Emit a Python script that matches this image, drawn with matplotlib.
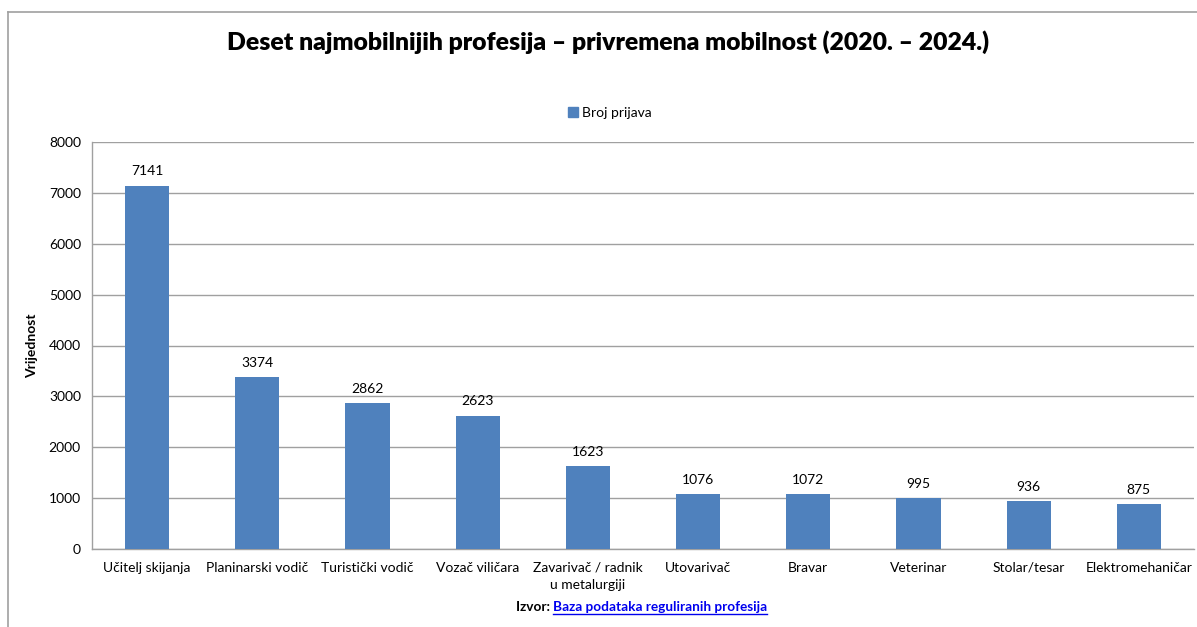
import matplotlib
matplotlib.use("Agg")
import matplotlib.pyplot as plt
from matplotlib.lines import Line2D
from matplotlib.patches import Patch

plt.rcParams['font.family'] = ['Lato', 'DejaVu Sans']

categories = ["Učitelj skijanja", "Planinarski vodič", "Turistički vodič", "Vozač viličara",
              "Zavarivač / radnik\nu metalurgiji", "Utovarivač", "Bravar", "Veterinar",
              "Stolar/tesar", "Elektromehaničar"]
values = [7141, 3374, 2862, 2623, 1623, 1076, 1072, 995, 936, 875]
series_name = "Broj prijava"
yticks = [0, 1000, 2000, 3000, 4000, 5000, 6000, 7000, 8000]

W, H = 1197, 627
fig = plt.figure(figsize=(W / 100, H / 100), dpi=100)
ax = fig.add_axes([92 / W, 1 - 549 / H, (1194 - 92) / W, (549 - 142) / H])

bar_color = "#4F81BD"
x = range(len(categories))
bars = ax.bar(x, values, width=0.4, color=bar_color, label=series_name, zorder=3)
ax.set_xlim(-0.5, len(categories) - 0.5)
ax.set_ylim(0, 8000)
ax.set_yticks(yticks)
ax.set_yticklabels([str(v) for v in yticks], fontsize=10)
ax.set_xticks(list(x))
ax.set_xticklabels(categories, fontsize=10, linespacing=1.55)
ax.tick_params(axis='both', length=0, pad=8)
ax.tick_params(axis='x', pad=9)
ax.grid(axis='y', color="#A0A0A0", linewidth=1, zorder=0)
for s in ['top', 'right']:
    ax.spines[s].set_visible(False)
for s in ['left', 'bottom']:
    ax.spines[s].set_color("#A0A0A0")
    ax.spines[s].set_linewidth(1)

for i, v in enumerate(values):
    ax.annotate(str(v), (i, v), xytext=(0, 6), textcoords='offset points',
                ha='center', va='bottom', fontsize=10)

ax.set_ylabel("Vrijednost", fontsize=10, fontweight='bold')
ax.yaxis.set_label_coords((38 - 92) / (1194 - 92), 0.5)

fig.text(608 / W, 1 - 42 / H, "Deset najmobilnijih profesija – privremena mobilnost (2020. – 2024.)",
         ha='center', va='center', fontsize=17.8, fontweight='heavy')

leg = fig.legend(handles=[Patch(color=bar_color, label=series_name)], loc='center',
                 bbox_to_anchor=(610 / W, 1 - 113 / H), frameon=False, fontsize=10,
                 handlelength=0.7, handleheight=0.7, handletextpad=0.3)

# frame lines
frame_c = "#A0A0A0"
fig.add_artist(Line2D([8 / W, 8 / W], [0, 1 - 12 / H], color=frame_c, linewidth=1.2, transform=fig.transFigure))
fig.add_artist(Line2D([8 / W, 1], [1 - 12 / H, 1 - 12 / H], color=frame_c, linewidth=1.2, transform=fig.transFigure))

# source line
t1 = fig.text(553 / W, 1 - 607 / H, "Izvor: ", ha='right', va='center', fontsize=9.8, fontweight='bold')
t2 = fig.text(553 / W, 1 - 607 / H, "Baza podataka reguliranih profesija", ha='left', va='center',
              fontsize=9.8, fontweight='bold', color="#0000EE")
fig.canvas.draw()
bb = t2.get_window_extent()
y_ul = (bb.y0 - 0.5) / H
fig.add_artist(Line2D([bb.x0 / W, bb.x1 / W], [y_ul, y_ul], color="#0000EE", linewidth=1, transform=fig.transFigure))

fig.savefig("out.png", dpi=100)
